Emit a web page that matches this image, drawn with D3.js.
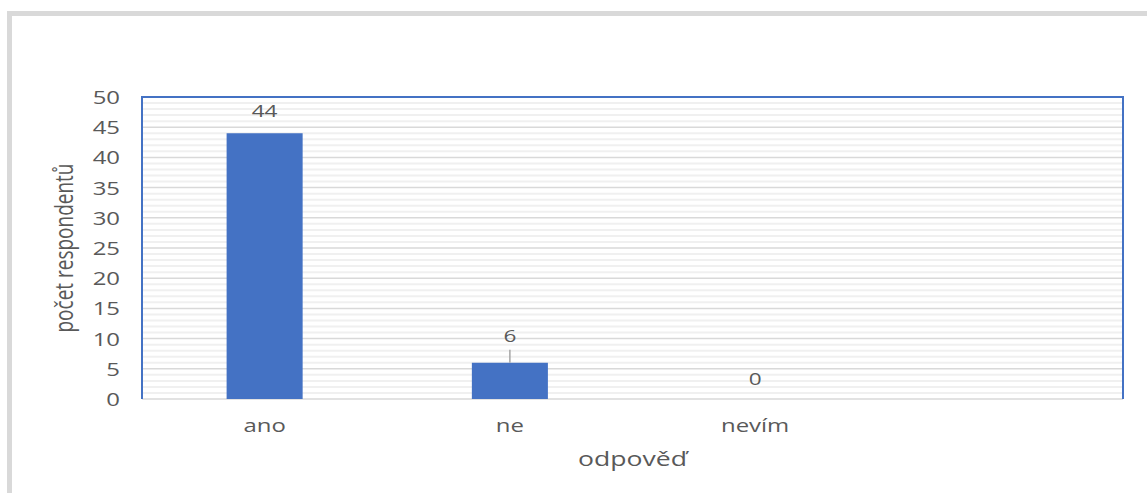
<!DOCTYPE html>
<html>
<head>
<meta charset="utf-8">
<script src="https://cdn.jsdelivr.net/npm/d3@7"></script>
<style>
  body { margin: 0; background: #fff; }
  text { font-family: "Open Sans", "DejaVu Sans", sans-serif; fill: #595959; }
</style>
</head>
<body>
<svg id="chart"></svg>
<script>
var categories = ["ano", "ne", "nevím", ""]
var values = [44, 6, 0, null]
var yTicks = [0, 5, 10, 15, 20, 25, 30, 35, 40, 45, 50]
var yTitle = "počet respondentů"
var xTitle = "odpověď"

var width = 1147
var height = 493
var margin = {left: 142, right: 24, top: 97, bottom: 94}
// the source picture is stretched sideways, so text is widened too
var stretch = 1.33

var svg = d3.select("#chart")
  .attr("width", width)
  .attr("height", height)

// outer chart frame (clipped at right/bottom like the screenshot)
svg.append("path")
  .attr("d", "M9.5,493 V13.5 H1147")
  .attr("fill", "none")
  .attr("stroke", "#d9d9d9")
  .attr("stroke-width", 5)

var x = d3.scaleBand()
  .domain(categories.map(function(d, i) { return i }))
  .range([margin.left, width - margin.right])
  .paddingInner(0.69)
  .paddingOuter(0.345)

var y = d3.scaleLinear()
  .domain([0, 50])
  .range([height - margin.bottom, margin.top])

// minor gridlines
svg.append("g")
  .selectAll("line")
  .data(d3.range(1, 50).filter(function(d) { return d % 5 != 0 }))
  .enter().append("line")
  .attr("x1", margin.left)
  .attr("x2", width - margin.right)
  .attr("y1", function(d) { return y(d) })
  .attr("y2", function(d) { return y(d) })
  .attr("stroke", "#f0f0f0")
  .attr("stroke-width", 2)

// major gridlines
svg.append("g")
  .selectAll("line")
  .data(yTicks)
  .enter().append("line")
  .attr("x1", margin.left)
  .attr("x2", width - margin.right)
  .attr("y1", function(d) { return y(d) })
  .attr("y2", function(d) { return y(d) })
  .attr("stroke", "#d9d9d9")
  .attr("stroke-width", 1.5)

// plot area border: blue left/top/right
svg.append("path")
  .attr("d", "M" + margin.left + "," + y(0) + " V" + y(50) + " H" + (width - margin.right) + " V" + y(0))
  .attr("fill", "none")
  .attr("stroke", "#4472c4")
  .attr("stroke-width", 2)

// bars
svg.append("g")
  .selectAll("rect")
  .data(values)
  .enter().append("rect")
  .filter(function(d) { return d != null })
  .attr("x", function(d, i) { return x(i) })
  .attr("width", x.bandwidth())
  .attr("y", function(d) { return y(d) })
  .attr("height", function(d) { return y(0) - y(d) })
  .attr("fill", "#4472c4")

// y tick labels
var yAxis = d3.axisLeft(y).tickValues(yTicks).tickSize(0).tickPadding(0)
var gy = svg.append("g")
  .attr("transform", "translate(" + (margin.left - 22) + ",0)")
  .call(yAxis)
gy.select(".domain").remove()
gy.selectAll("text")
  .attr("x", 0)
  .attr("dy", "0.36em")
  .attr("transform", "scale(" + stretch + ",1)")
  .style("font-size", "18px")
  .attr("fill", "#595959")

// x tick labels
var xAxis = d3.axisBottom(x).tickFormat(function(i) { return categories[i] }).tickSize(0).tickPadding(0)
var gx = svg.append("g")
  .attr("transform", "translate(0," + (y(0) + 33) + ")")
  .call(xAxis)
gx.select(".domain").remove()
gx.selectAll("text")
  .attr("y", 0)
  .attr("dy", 0)
  .attr("transform", "scale(" + stretch + ",1)")
  .style("font-size", "18px")
  .attr("fill", "#595959")

// data labels
values.forEach(function(v, i) {
  if (v == null) return
  var cx = x(i) + x.bandwidth() / 2
  var ly = y(v) - 16
  if (v == 6) {
    ly = y(v) - 21
    svg.append("line")
      .attr("x1", cx).attr("x2", cx)
      .attr("y1", ly + 8).attr("y2", y(v))
      .attr("stroke", "#a6a6a6")
      .attr("stroke-width", 1.5)
  }
  if (v == 0) ly = y(v) - 14
  svg.append("text")
    .attr("transform", "translate(" + cx + "," + ly + ") scale(" + stretch + ",1)")
    .attr("text-anchor", "middle")
    .style("font-size", "17px")
    .text(v)
})

// axis titles
svg.append("text")
  .attr("transform", "translate(73," + ((y(0) + y(50)) / 2) + ") rotate(-90) scale(1," + stretch + ")")
  .attr("text-anchor", "middle")
  .style("font-size", "19px")
  .text(yTitle)

svg.append("text")
  .attr("transform", "translate(" + ((margin.left + width - margin.right) / 2) + ",466) scale(" + stretch + ",1)")
  .attr("text-anchor", "middle")
  .style("font-size", "20px")
  .text(xTitle)
</script>
</body>
</html>
